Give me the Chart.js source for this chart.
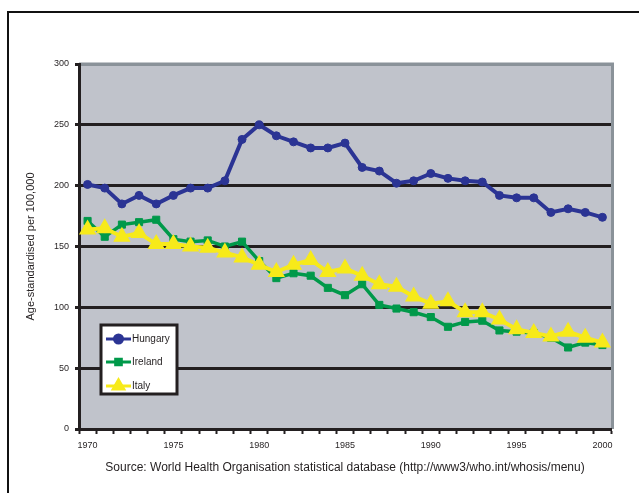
<!DOCTYPE html>
<html>
<head>
<meta charset="utf-8">
<script src="https://cdn.jsdelivr.net/npm/chart.js@4/dist/chart.umd.min.js"></script>
<style>
  html, body { margin: 0; padding: 0; background: #ffffff; }
  #wrap { position: relative; width: 639px; height: 493px; }
</style>
</head>
<body>
<div id="wrap"><canvas id="chart" width="639" height="493"></canvas></div>
<script>
// Years on the category axis
const years = [1970, 1971, 1972, 1973, 1974, 1975, 1976, 1977, 1978, 1979,
               1980, 1981, 1982, 1983, 1984, 1985, 1986, 1987, 1988, 1989,
               1990, 1991, 1992, 1993, 1994, 1995, 1996, 1997, 1998, 1999, 2000];

// Age-standardised rates per 100,000
const hungary = [201, 198, 185, 192, 185, 192, 198, 198, 204, 238,
                 250, 241, 236, 231, 231, 235, 215, 212, 202, 204,
                 210, 206, 204, 203, 192, 190, 190, 178, 181, 178, 174];
const ireland = [171, 158, 168, 170, 172, 156, 154, 155, 150, 154,
                 138, 124, 128, 126, 116, 110, 119, 102, 99, 96,
                 92, 84, 88, 89, 81, 80, 79, 75, 67, 71, 69];
const italy   = [164, 165, 158, 161, 152, 152, 150, 149, 145, 141,
                 135, 129, 135, 139, 129, 132, 126, 119, 117, 109,
                 103, 105, 96, 96, 90, 82, 79, 76, 80, 75, 71];

const seriesNames = ['Hungary', 'Ireland', 'Italy'];
const yTicks = [0, 50, 100, 150, 200, 250, 300];
const labelYears = [1970, 1975, 1980, 1985, 1990, 1995, 2000];
const yTitle = 'Age-standardised per 100,000';
const sourceNote = 'Source: World Health Organisation statistical database (http://www3/who.int/whosis/menu)';

const NAVY = '#2b3494';
const GREEN = '#00994a';
const YELLOW = '#f7ea1a';
const PLOT_BG = '#c0c3cb';
const EDGE_GRAY = '#8a9299';
const INK = '#231f20';
const NARROW = '"Liberation Sans Narrow", "Arial Narrow", "Liberation Sans", Arial, sans-serif';
const SANS = '"Liberation Sans", Arial, sans-serif';

// Plot background, gray top/right edge and the outer frame
const framePlugin = {
  id: 'frame',
  beforeDraw(chart) {
    const { ctx, chartArea: a } = chart;
    ctx.save();
    ctx.fillStyle = PLOT_BG;
    ctx.fillRect(a.left, a.top, a.right - a.left, a.bottom - a.top);
    ctx.strokeStyle = EDGE_GRAY;
    ctx.lineWidth = 3;
    ctx.beginPath();
    ctx.moveTo(a.left, a.top);
    ctx.lineTo(a.right + 1.5, a.top);
    ctx.lineTo(a.right + 1.5, a.bottom);
    ctx.stroke();
    // outer frame
    ctx.strokeStyle = '#111111';
    ctx.lineWidth = 2;
    ctx.beginPath();
    ctx.moveTo(8, chart.height);
    ctx.lineTo(8, 12);
    ctx.lineTo(chart.width, 12);
    ctx.stroke();
    ctx.restore();
  }
};

// Boxed legend sitting inside the plot area
const boxLegendPlugin = {
  id: 'boxLegend',
  afterDraw(chart) {
    const { ctx } = chart;
    const box = { x: 101, y: 325, w: 76, h: 69 };
    ctx.save();
    ctx.fillStyle = '#ffffff';
    ctx.fillRect(box.x, box.y, box.w, box.h);
    ctx.strokeStyle = INK;
    ctx.lineWidth = 3;
    ctx.strokeRect(box.x, box.y, box.w, box.h);
    const rows = [339, 362, 386];
    chart.data.datasets.forEach((ds, i) => {
      const y = rows[i];
      ctx.strokeStyle = ds.borderColor;
      ctx.lineWidth = 3;
      ctx.beginPath();
      ctx.moveTo(106, y);
      ctx.lineTo(131, y);
      ctx.stroke();
      ctx.fillStyle = ds.backgroundColor;
      ctx.strokeStyle = ds.borderColor;
      Chart.helpers.drawPoint(ctx, {
        pointStyle: ds.pointStyle,
        radius: ds.legendRadius,
        borderWidth: 1
      }, 118.5, y);
      ctx.fillStyle = '#231f20';
      ctx.font = '10px ' + NARROW;
      ctx.textBaseline = 'middle';
      ctx.textAlign = 'left';
      ctx.fillText(ds.label, 132, y);
    });
    ctx.restore();
  }
};

const chart = new Chart(document.getElementById('chart'), {
  type: 'line',
  data: {
    labels: years,
    datasets: [
      {
        label: seriesNames[0], data: hungary, order: 2,
        borderColor: NAVY, backgroundColor: NAVY, borderWidth: 4,
        pointStyle: 'circle', pointRadius: 4, pointBorderWidth: 1,
        legendRadius: 4, tension: 0
      },
      {
        label: seriesNames[1], data: ireland, order: 1,
        borderColor: GREEN, backgroundColor: GREEN, borderWidth: 3.5,
        pointStyle: 'rect', pointRadius: 5, pointBorderWidth: 1,
        legendRadius: 4, tension: 0
      },
      {
        label: seriesNames[2], data: italy, order: 0,
        borderColor: YELLOW, backgroundColor: YELLOW, borderWidth: 4,
        pointStyle: 'triangle', pointRadius: 8, pointBorderWidth: 2,
        legendRadius: 6, tension: 0
      }
    ]
  },
  options: {
    responsive: false,
    animation: false,
    events: [],
    layout: { padding: { top: 64, left: 0, right: 28, bottom: 0 } },
    plugins: {
      legend: { display: false },
      tooltip: { enabled: false }
    },
    scales: {
      x: {
        type: 'category',
        offset: true,
        afterFit(scale) { scale.height = 64; },
        grid: {
          offset: true,
          drawOnChartArea: false,
          drawTicks: true,
          tickLength: 5,
          tickWidth: 2,
          tickColor: INK
        },
        border: { display: true, color: INK, width: 3 },
        ticks: {
          autoSkip: false,
          maxRotation: 0,
          minRotation: 0,
          padding: 6,
          color: '#231f20',
          font: { family: NARROW, size: 9 },
          callback(value, index) {
            const yr = years[index];
            return labelYears.includes(yr) ? String(yr) : '';
          }
        },
        title: {
          display: true,
          text: sourceNote,
          color: '#231f20',
          font: { family: SANS, size: 12 },
          padding: { top: 0, bottom: 18 }
        }
      },
      y: {
        min: 0,
        max: 300,
        afterFit(scale) { scale.width = 79; },
        afterBuildTicks(scale) { scale.ticks = yTicks.map(v => ({ value: v })); },
        grid: {
          drawTicks: true,
          tickLength: 4,
          tickColor: INK,
          lineWidth: 3,
          color(ctx) { return ctx.tick && ctx.tick.value === 300 ? EDGE_GRAY : INK; }
        },
        border: { display: true, color: INK, width: 3 },
        ticks: {
          padding: 6,
          color: '#231f20',
          font: { family: NARROW, size: 9 }
        },
        title: {
          display: true,
          text: yTitle,
          color: '#231f20',
          font: { family: NARROW, size: 11 },
          padding: { top: 24, bottom: 0 }
        }
      }
    }
  },
  plugins: [framePlugin, boxLegendPlugin]
});
</script>
</body>
</html>
